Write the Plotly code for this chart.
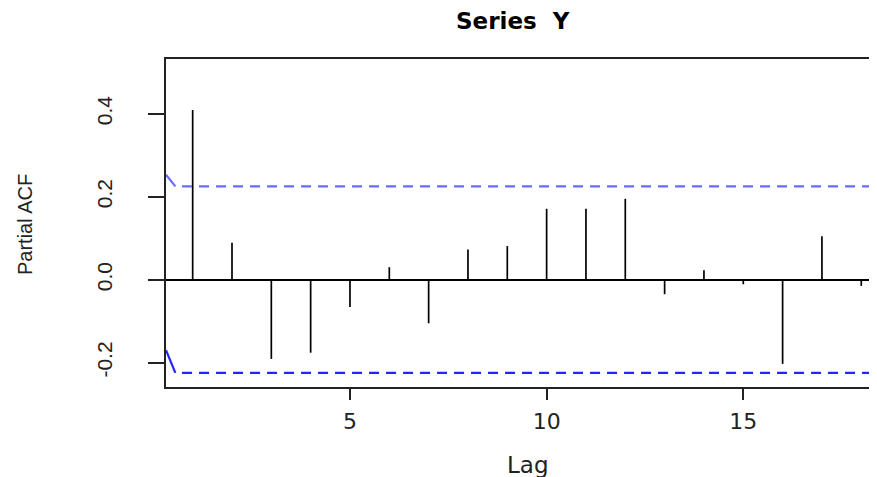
import numpy as np
import plotly.graph_objects as go

# ---- data ----
lags = list(range(1, 19))
pacf = [0.409, 0.089, -0.191, -0.176, -0.066, 0.030, -0.105, 0.073, 0.081,
        0.171, 0.171, 0.195, -0.035, 0.023, -0.011, -0.203, 0.105, -0.015]
n_obs = 76
clim = 1.96 / np.sqrt(n_obs)

title_text = "Series  Y"
x_title = "Lag"
y_title = "Partial ACF"
x_ticks = [5, 10, 15]
y_ticks = [-0.2, 0.0, 0.2, 0.4]
y_ticklabels = ["-0.2", "0.0", "0.2", "0.4"]

x_range = [0.322, 18.40]
y_range = [-0.2587, 0.532]

# ---- figure (page body has an 8px default margin, compensate) ----
OFF = 8
W, H = 877 - OFF, 477 - OFF
ML, MT, MB, MR = 166 - OFF, 59 - OFF, 90, 0
PW, PH = W - ML - MR, H - MT - MB


def px(sx):  # screen x -> paper x
    return (sx - OFF - ML) / PW


def py(sy):  # screen y -> paper y
    return (H - MB - (sy - OFF)) / PH


bx, by = [], []
for l, v in zip(lags, pacf):
    bx += [l, l, None]
    by += [0, v, None]

fig = go.Figure()
fig.add_trace(go.Scatter(x=bx, y=by, mode="lines",
                         line=dict(color="black", width=1.7),
                         hoverinfo="skip", showlegend=False))

# confidence limits (dashed) with the small slanted lead-in at the left edge
x0 = x_range[0]
x_slant_end = 0.56
x_dash_start = 0.73
for sgn, col, lead in [(1, "#6a6aff", 0.028), (-1, "#2424ff", 0.055)]:
    yc = sgn * clim
    fig.add_trace(go.Scatter(x=[x0, x_slant_end], y=[yc + lead, yc],
                             mode="lines", line=dict(color=col, width=2.2),
                             hoverinfo="skip", showlegend=False))
    fig.add_trace(go.Scatter(x=[x_dash_start, x_range[1]], y=[yc, yc], mode="lines",
                             line=dict(color=col, width=2.2, dash="10px,7px"),
                             hoverinfo="skip", showlegend=False))

sans = "Liberation Sans, Arial, sans-serif"

fig.update_layout(
    width=W, height=H,
    margin=dict(l=ML, r=MR, t=MT, b=MB, pad=0),
    paper_bgcolor="white", plot_bgcolor="white",
    showlegend=False,
    xaxis=dict(range=x_range, showgrid=False, zeroline=False,
               showline=True, mirror=True, linecolor="#222", linewidth=2,
               ticks="outside", ticklen=11, tickwidth=1.6, tickcolor="#222",
               tickvals=x_ticks, ticktext=[str(t) for t in x_ticks],
               tickfont=dict(family="DejaVu Sans", size=22, color="#222"),
               ticklabelstandoff=3),
    yaxis=dict(range=y_range, showgrid=False,
               zeroline=True, zerolinecolor="black", zerolinewidth=1.7,
               showline=True, mirror=False, linecolor="#222", linewidth=2,
               ticks="outside", ticklen=16, tickwidth=1.6, tickcolor="#222",
               tickvals=y_ticks, ticktext=y_ticklabels, tickangle=-90,
               tickfont=dict(family=sans, size=21, color="#222"),
               ticklabelstandoff=28),
    annotations=[
        dict(text=title_text, xref="paper", yref="paper",
             x=px(513), y=py(21),
             xanchor="center", yanchor="middle", showarrow=False,
             font=dict(family="DejaVu Sans", size=23, color="black", weight="bold")),
        dict(text=x_title, xref="paper", yref="paper",
             x=px(528), y=py(465),
             xanchor="center", yanchor="middle", showarrow=False,
             font=dict(family="DejaVu Sans", size=23, color="#222")),
        dict(text=y_title, xref="paper", yref="paper", textangle=-90,
             x=px(25), y=py(225),
             xanchor="center", yanchor="middle", showarrow=False,
             font=dict(family=sans, size=20, color="#222")),
    ],
)

fig.write_html("out.html")
